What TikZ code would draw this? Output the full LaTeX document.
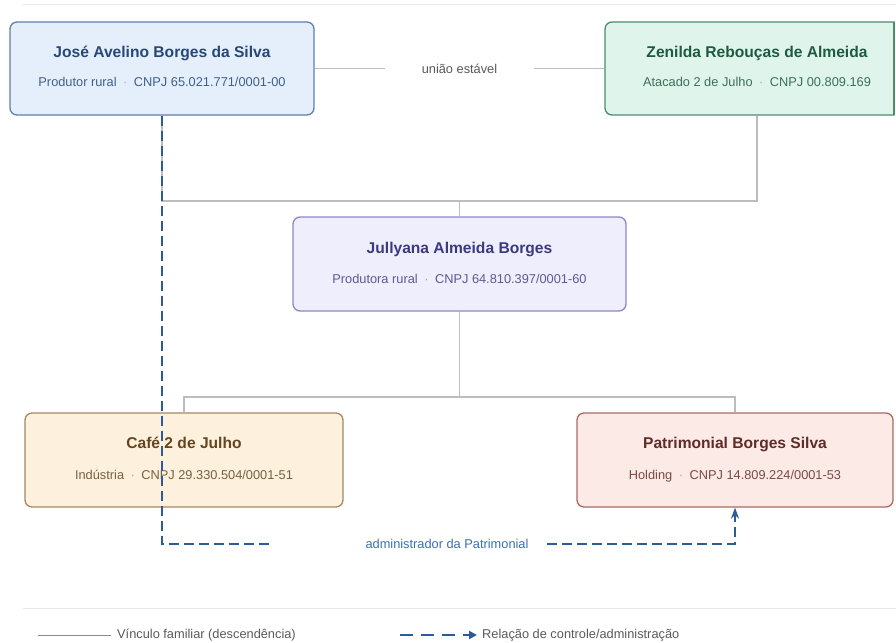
\documentclass[tikz,border=0pt]{standalone}
\usepackage{fontspec}
\setmainfont{Liberation Sans}
\usetikzlibrary{arrows.meta,calc}
\definecolor{joseF}{HTML}{E5EFFB}\definecolor{joseB}{HTML}{5F80AA}\definecolor{joseT}{HTML}{274877}\definecolor{joseS}{HTML}{3F608C}
\definecolor{zenF}{HTML}{DFF5EC}\definecolor{zenB}{HTML}{4F8A6F}\definecolor{zenT}{HTML}{1E5A40}\definecolor{zenS}{HTML}{3B7058}
\definecolor{julF}{HTML}{EEEEFC}\definecolor{julB}{HTML}{8C88C8}\definecolor{julT}{HTML}{3C3A7C}\definecolor{julS}{HTML}{5C5A92}
\definecolor{cafF}{HTML}{FDF1DE}\definecolor{cafB}{HTML}{A38A66}\definecolor{cafT}{HTML}{654520}\definecolor{cafS}{HTML}{76603F}
\definecolor{patF}{HTML}{FBEAE6}\definecolor{patB}{HTML}{A86C64}\definecolor{patT}{HTML}{602C28}\definecolor{patS}{HTML}{7A4A46}
\definecolor{famC}{HTML}{BDBDBD}\definecolor{ctlC}{HTML}{2D5B99}\definecolor{admC}{HTML}{3A70B5}
\definecolor{sepC}{HTML}{E8E8E8}\definecolor{txtC}{HTML}{5A5A5A}
\newcommand{\sepdot}{\hspace{6.5pt}\textcolor{black!35}{·}\hspace{6.5pt}}
\begin{document}
\begin{tikzpicture}[x=1pt,y=-1pt,
  box/.style={draw, rounded corners=7pt, line width=1.3pt, inner sep=0pt},
  ttl/.style={anchor=base, inner sep=0pt, font=\fontsize{15.6}{18}\selectfont\bfseries},
  sub/.style={anchor=base, inner sep=0pt, font=\fontsize{12.8}{15}\selectfont},
  fam/.style={draw=famC, line width=1.4pt},
  ctl/.style={draw=ctlC, line width=1.7pt, dash pattern=on 10pt off 5pt},
  sepline/.style={draw=sepC, line width=1pt},
  lbl/.style={inner sep=0pt, font=\fontsize{12.8}{15}\selectfont}
]
\useasboundingbox (0,0) rectangle (896,642);
\fill[white] (0,0) rectangle (896,642);

% separators
\coordinate (s1) at (22,5); \coordinate (s2) at (896,5);
\coordinate (s3) at (23,608); \coordinate (s4) at (896,608);
\draw[sepline] (s1) -- (s2);
\draw[sepline] (s3) -- (s4);

% boxes
\node[box, fill=joseF, draw=joseB, minimum width=304pt, minimum height=93pt] (jose) at (162,68.5) {};
\begin{scope}
\clip (0,0) rectangle (894.6,642);
\node[box, fill=zenF, draw=zenB, minimum width=304pt, minimum height=93pt] (zen) at (757,68.5) {};
\end{scope}
\coordinate (zr1) at (894,22); \coordinate (zr2) at (894,115);
\draw[draw=zenB, line width=1.3pt] (zr1) -- (zr2);
\node[box, fill=julF, draw=julB, minimum width=333pt, minimum height=94pt] (jul) at (459.5,264) {};
\node[box, fill=cafF, draw=cafB, minimum width=318pt, minimum height=94pt] (cafe) at (184,460) {};
\node[box, fill=patF, draw=patB, minimum width=316pt, minimum height=94pt] (pat) at (735,460) {};

% texts
\node[ttl, text=joseT] (jose-t) at ($(jose.center)+(0,-11)$) {José Avelino Borges da Silva};
\node[sub, text=joseS] (jose-s) at ($(jose.center)+(0,18)$) {Produtor rural\sepdot CNPJ 65.021.771/0001-00};
\node[ttl, text=zenT] (zen-t) at ($(zen.center)+(0,-11)$) {Zenilda Rebouças de Almeida};
\node[sub, text=zenS] (zen-s) at ($(zen.center)+(0,18)$) {Atacado 2 de Julho\sepdot CNPJ 00.809.169};
\node[ttl, text=julT] (jul-t) at ($(jul.center)+(0,-10.5)$) {Jullyana Almeida Borges};
\node[sub, text=julS] (jul-s) at ($(jul.center)+(0,19.5)$) {Produtora rural\sepdot CNPJ 64.810.397/0001-60};
\node[ttl, text=cafT] (cafe-t) at ($(cafe.center)+(0,-11.5)$) {Café 2 de Julho};
\node[sub, text=cafS] (cafe-s) at ($(cafe.center)+(0,19.5)$) {Indústria\sepdot CNPJ 29.330.504/0001-51};
\node[ttl, text=patT] (pat-t) at ($(pat.center)+(0,-11.5)$) {Patrimonial Borges Silva};
\node[sub, text=patS] (pat-s) at ($(pat.center)+(0,19.5)$) {Holding\sepdot CNPJ 14.809.224/0001-53};

% union
\node[lbl, text=txtC, inner xsep=37pt] (uniao) at (459.5,68.5) {união estável};
\draw[fam] (jose.east) -- (uniao.west);
\draw[fam] (uniao.east) -- (zen.west);

% family lines
\coordinate (famA) at (459.5,201);
\coordinate (famB) at (459.5,397);
\draw[fam] (jose.south) |- (famA) -| (zen.south);
\draw[fam] (famA) -- (jul.north);
\draw[fam] (jul.south) -- (famB);
\draw[fam] (cafe.north) |- (famB) -| (pat.north);

% control relation
\coordinate (d1) at (162,544);
\coordinate (d2) at (272,544);
\coordinate (d3) at (547,544);
\node[lbl, text=admC] (adm) at (447,544) {administrador da Patrimonial};
\draw[ctl] (jose.south) -- (d1) -- (d2);
\draw[ctl, -{Stealth[length=11pt, width=8pt]}] (d3) -| (pat.south);

% legend
\coordinate (l1) at (38,635); \coordinate (l2) at (111,635);
\draw[draw=black!45, line width=0.8pt] (l1) -- (l2);
\node[lbl, anchor=west, text=txtC] (leg1) at (117,635) {Vínculo familiar (descendência)};
\coordinate (l3) at (400,635); \coordinate (l4) at (477,635);
\draw[ctl, line width=2pt, dash pattern=on 13pt off 8pt, -{Triangle[length=8pt, width=8pt]}] (l3) -- (l4);
\node[lbl, anchor=west, text=txtC] (leg2) at (482,635) {Relação de controle/administração};
\end{tikzpicture}
\end{document}
